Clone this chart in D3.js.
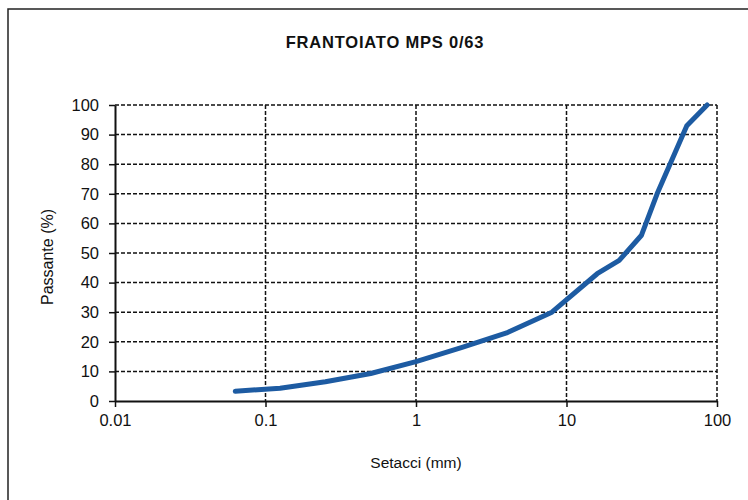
<!DOCTYPE html>
<html>
<head>
<meta charset="utf-8">
<script src="https://cdn.jsdelivr.net/npm/d3@7"></script>
<style>
  body { margin: 0; background: #fff; }
  svg { font-family: "Liberation Sans", Arial, sans-serif; }
</style>
</head>
<body>
<div id="chart"></div>
<script>
// Grain size curve data (sieve opening in mm, % passing)
const sieves  = [0.063, 0.125, 0.25, 0.5, 1, 2, 4, 8, 16, 22.4, 31.5, 40, 63, 86]
const passing = [3.3, 4.3, 6.5, 9.3, 13.3, 18, 23, 30, 43, 47.5, 56, 70, 93, 100]
const xTicks  = [0.01, 0.1, 1, 10, 100]
const yTicks  = [0, 10, 20, 30, 40, 50, 60, 70, 80, 90, 100]

const WIDTH = 748
const HEIGHT = 500
const PLOT = {LEFT:115, RIGHT:717, TOP:105, BOTTOM:401}
const colour = "#1d5ba2"

const data = sieves.map((s, i) => ({size: s, pass: passing[i]}))

let svg = d3.select("#chart").append("svg")
    .attr("width", WIDTH)
    .attr("height", HEIGHT)

// outer frame (runs off the right and bottom of the picture)
svg.append("rect")
    .attr("x", 8).attr("y", 9)
    .attr("width", 760).attr("height", 520)
    .attr("fill", "none")
    .attr("stroke", "#222")
    .attr("stroke-width", 1.5)

let xScale = d3.scaleLog()
    .domain([0.01, 100])
    .range([PLOT.LEFT, PLOT.RIGHT])

let yScale = d3.scaleLinear()
    .domain([0, 100])
    .range([PLOT.BOTTOM, PLOT.TOP])

// dashed grid
svg.append("g").selectAll("line")
    .data(yTicks.slice(1))
    .join("line")
    .attr("x1", PLOT.LEFT).attr("x2", PLOT.RIGHT)
    .attr("y1", d => yScale(d)).attr("y2", d => yScale(d))
    .attr("stroke", "#111")
    .attr("stroke-width", 1.5)
    .attr("stroke-dasharray", "4,2")

svg.append("g").selectAll("line")
    .data(xTicks.slice(1))
    .join("line")
    .attr("x1", d => xScale(d)).attr("x2", d => xScale(d))
    .attr("y1", PLOT.TOP).attr("y2", PLOT.BOTTOM)
    .attr("stroke", "#111")
    .attr("stroke-width", 1.5)
    .attr("stroke-dasharray", "4,2")

// axes
let xAxis = svg.append("g")
    .attr("transform", "translate(0," + PLOT.BOTTOM + ")")
    .call(d3.axisBottom(xScale).tickValues(xTicks).tickFormat(d => String(d)).tickSize(6).tickSizeOuter(0))
xAxis.select(".domain").attr("stroke", "#111").attr("stroke-width", 2)
xAxis.selectAll(".tick line").attr("stroke", "#111").attr("stroke-width", 1.5)
xAxis.selectAll(".tick text").attr("font-size", 16.5).attr("fill", "#111").attr("dy", "0.95em")
    .attr("font-family", "Liberation Sans, Arial, sans-serif")

let yAxis = svg.append("g")
    .attr("transform", "translate(" + PLOT.LEFT + ",0)")
    .call(d3.axisLeft(yScale).tickValues(yTicks).tickSize(6).tickSizeOuter(0))
yAxis.select(".domain").attr("stroke", "#111").attr("stroke-width", 2)
yAxis.selectAll(".tick line").attr("stroke", "#111").attr("stroke-width", 1.5)
yAxis.selectAll(".tick text").attr("font-size", 16.5).attr("fill", "#111").attr("x", -16)
    .attr("font-family", "Liberation Sans, Arial, sans-serif")

// curve
let linepoints = d3.line()
    .x(d => xScale(d.size))
    .y(d => yScale(d.pass))

svg.append("path").datum(data)
    .attr("d", linepoints)
    .attr("fill", "none")
    .attr("stroke", colour)
    .attr("stroke-width", 5)
    .attr("stroke-linejoin", "round")
    .attr("stroke-linecap", "round")

// titles
svg.append("text")
    .attr("x", 385).attr("y", 48)
    .attr("text-anchor", "middle")
    .attr("font-size", 16.5)
    .attr("font-weight", "bold")
    .attr("letter-spacing", 0.8)
    .attr("fill", "#111")
    .text("FRANTOIATO MPS 0/63")

svg.append("text")
    .attr("x", 416).attr("y", 468)
    .attr("text-anchor", "middle")
    .attr("font-size", 15.5)
    .attr("fill", "#111")
    .text("Setacci (mm)")

svg.append("text")
    .attr("transform", "translate(53,257) rotate(-90)")
    .attr("text-anchor", "middle")
    .attr("font-size", 16)
    .attr("fill", "#111")
    .text("Passante (%)")
</script>
</body>
</html>
